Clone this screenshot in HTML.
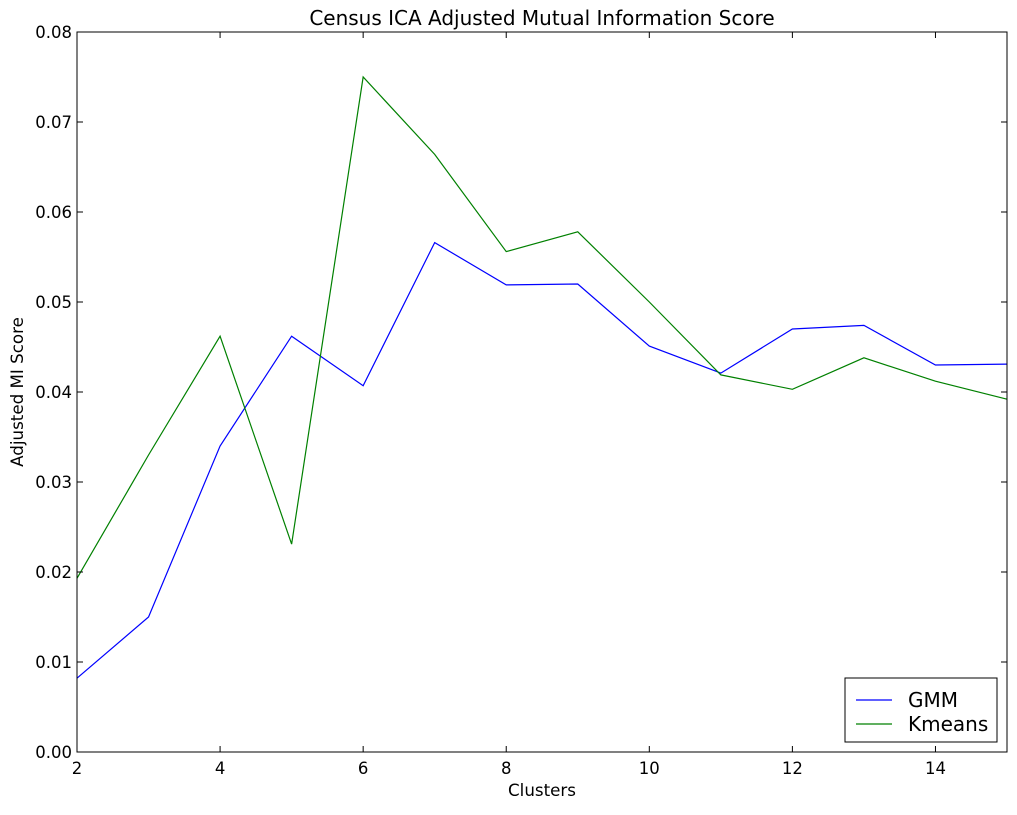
<!DOCTYPE html>
<html><head><meta charset="utf-8"><style>
body{margin:0;background:#fff;}
text{font-family:"DejaVu Sans","Liberation Sans",sans-serif;}
</style></head><body>
<svg id="chart" width="1017" height="810"></svg>
<script>
const xs=[2,3,4,5,6,7,8,9,10,11,12,13,14,15];
const gmm=[0.0082,0.0150,0.0340,0.0462,0.0407,0.0566,0.0519,0.0520,0.0451,0.0421,0.0470,0.0474,0.0430,0.0431];
const kmeans=[0.0193,0.0330,0.0462,0.0231,0.0750,0.0664,0.0556,0.0578,0.0500,0.0419,0.0403,0.0438,0.0412,0.0392];
const xTicks=[2,4,6,8,10,12,14];
const yTicks=[0,0.01,0.02,0.03,0.04,0.05,0.06,0.07,0.08];
const L=77,R=1007,T=32,B=752;
const sx=v=>L+(v-2)/(15-2)*(R-L);
const sy=v=>B-v/0.08*(B-T);
const svg=document.getElementById('chart');
const NS='http://www.w3.org/2000/svg';
function mk(tag,attrs,parent){const e=document.createElementNS(NS,tag);for(const k in attrs)e.setAttribute(k,attrs[k]);(parent||svg).appendChild(e);return e;}
function line(pts,color,name){const p=mk('polyline',{points:pts.map(p=>p.join(',')).join(' '),fill:'none',stroke:color,'stroke-width':1.2});

}
line(xs.map((x,i)=>[sx(x),sy(gmm[i])]),'#0000ff','gmm-line');
line(xs.map((x,i)=>[sx(x),sy(kmeans[i])]),'#008000','kmeans-line');
const frame=mk('rect',{x:L,y:T,width:R-L,height:B-T,fill:'none',stroke:'#000','stroke-width':1});


xTicks.forEach(v=>{const x=sx(v);
mk('line',{x1:x,x2:x,y1:B,y2:B-6,stroke:'#000'});mk('line',{x1:x,x2:x,y1:T,y2:T+6,stroke:'#000'});
const t=mk('text',{x:x,y:B+22,'text-anchor':'middle','font-size':16.5});t.textContent=v;

});
yTicks.forEach(v=>{const y=sy(v);
mk('line',{x1:L,x2:L+6,y1:y,y2:y,stroke:'#000'});mk('line',{x1:R,x2:R-6,y1:y,y2:y,stroke:'#000'});
const t=mk('text',{x:L-5,y:y+6,'text-anchor':'end','font-size':16.5});t.textContent=v.toFixed(2);

});
let t=mk('text',{x:(L+R)/2,y:25,'text-anchor':'middle','font-size':20});t.textContent='Census ICA Adjusted Mutual Information Score';


t=mk('text',{x:(L+R)/2,y:796,'text-anchor':'middle','font-size':16.7});t.textContent='Clusters';


t=mk('text',{x:23,y:(T+B)/2,'text-anchor':'middle','font-size':16.7,transform:'rotate(-90 23 '+(T+B)/2+')'});t.textContent='Adjusted MI Score';


const lg=mk('g',{});


mk('rect',{x:845,y:678,width:152,height:64,fill:'#fff',stroke:'#000'},lg);
[['GMM','#0000ff',700],['Kmeans','#008000',724]].forEach(([n,c,y])=>{
mk('line',{x1:856,x2:892,y1:y,y2:y,stroke:c,'stroke-width':1.2},lg);
const tt=mk('text',{x:908,y:y+7,'font-size':20},lg);tt.textContent=n;

});
</script>
</body></html>
